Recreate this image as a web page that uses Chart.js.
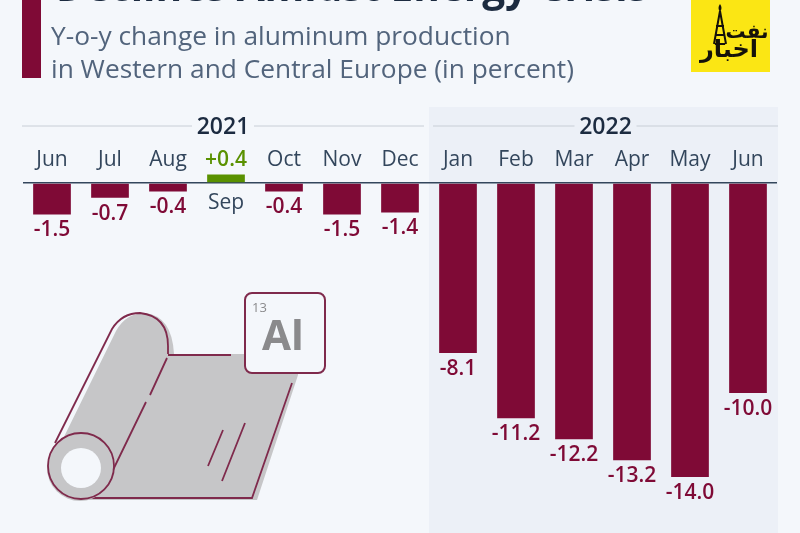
<!DOCTYPE html>
<html>
<head>
<meta charset="utf-8">
<style>
  html, body { margin: 0; padding: 0; }
  body { width: 800px; height: 533px; position: relative; overflow: hidden; background: #f4f7fb; font-family: "Open Sans", sans-serif; }
  #chart { position: absolute; left: 0; top: 0; }
  .accent { position: absolute; left: 22px; top: 0; width: 19px; height: 78px; background: #7f0a36; }
  .title { position: absolute; left: 56px; top: -36px; font-size: 40.5px; line-height: 44px; font-weight: 700; color: #1c2b40; white-space: nowrap; }
  .subtitle { position: absolute; left: 51px; top: 19px; font-size: 26.3px; line-height: 33px; color: #52647c; white-space: nowrap; }
  .logo { position: absolute; left: 691px; top: 0; width: 79px; height: 72px; background: #fbe614; }
  svg.art { position: absolute; left: 0; top: 0; }
</style>
</head>
<body>
<canvas id="chart" width="800" height="533"></canvas>
<div class="accent"></div>
<div class="title">Declines Amidst Energy Crisis</div>
<div class="subtitle">Y-o-y change in aluminum production<br>in Western and Central Europe (in percent)</div>
<div class="logo">
  <svg width="79" height="72" viewBox="0 0 79 72">
    <path d="M29 11 L23 44 M29 11 L35 44 M25 26 H33 M24 35 H34 M24 44 H34" stroke="#15120a" stroke-width="2" fill="none"/>
    <path d="M29 4 Q32 8 29 12 Q26 8 29 4 Z" fill="#15120a"/>
    <text x="56" y="38" text-anchor="middle" font-family="DejaVu Sans" font-weight="700" font-size="20" fill="#15120a" direction="rtl">نفت</text>
    <text x="38" y="57" text-anchor="middle" font-family="DejaVu Sans" font-weight="700" font-size="24" fill="#15120a" direction="rtl">اخبار</text>
  </svg>
</div>
<svg class="art" width="800" height="533" viewBox="0 0 800 533">
  <path d="M60 445 L116 331 Q126 313 145 313 Q172 316 174 354 L298 354 L298 375 L257 500 L85 500 Z" fill="#c6c6c8"/>
  <path d="M55 443 L112 329 Q122 313 140 313 Q168 316 168 346 L168 354" fill="none" stroke="#7f2a4c" stroke-width="1.8"/>
  <path d="M167 358 L150 395 M146 402 L113 470 M168 355 H231 M292 383 L252 498 H85 M223 430 L208 466 M245 423 L222 481" fill="none" stroke="#7f2a4c" stroke-width="1.8"/>
  <circle cx="80" cy="468" r="33" fill="#c6c6c8"/>
  <circle cx="81" cy="466" r="33" fill="none" stroke="#7f2a4c" stroke-width="1.8"/>
  <circle cx="81" cy="468" r="20" fill="#f4f7fb"/>
  <rect x="245" y="293" width="80" height="80" rx="7" fill="#f4f7fb" stroke="#7f2a4c" stroke-width="2"/>
  <text x="252" y="312" font-family="Open Sans" font-size="13" fill="#8a8a8c">13</text>
  <text x="283" y="350" text-anchor="middle" font-family="Open Sans" font-weight="700" font-size="42" fill="#8a8a8c">Al</text>
</svg>
<script src="https://cdn.jsdelivr.net/npm/chart.js@4"></script>
<script>
const months = ['Jun', 'Jul', 'Aug', 'Sep', 'Oct', 'Nov', 'Dec', 'Jan', 'Feb', 'Mar', 'Apr', 'May', 'Jun'];
const values = [-1.5, -0.7, -0.4, 0.4, -0.4, -1.5, -1.4, -8.1, -11.2, -12.2, -13.2, -14.0, -10.0];
const years = ['2021', '2022'];
// index of first and last month under each year header
const yearSpans = [[0, 6], [7, 12]];

const bandColor = '#ecf0f7';
const negColor = '#7f0a36';
const posColor = '#5a9100';

const formatValue = (v) => (v > 0 ? '+' : '') + v.toFixed(1);

// 2022 panel behind the bars
const bandPlugin = {
    id: 'band',
    beforeDraw(chart) {
        const x = chart.scales.x;
        const left = x.getPixelForValue(yearSpans[1][0]) - 29;
        const ctx = chart.ctx;
        ctx.save();
        ctx.fillStyle = bandColor;
        ctx.fillRect(left, 107, chart.chartArea.right + 1 - left, chart.height - 107);
        ctx.restore();
    }
};

// months, value labels and year headers
const labelPlugin = {
    id: 'labels',
    afterDraw(chart) {
        const { x, y } = chart.scales;
        const ctx = chart.ctx;
        const zero = y.getPixelForValue(0);
        ctx.save();
        ctx.textAlign = 'center';
        ctx.textBaseline = 'middle';

        values.forEach((v, i) => {
            const px = x.getPixelForValue(i);
            const tip = y.getPixelForValue(v);
            ctx.font = '600 21px "Open Sans"';
            ctx.fillStyle = v > 0 ? posColor : negColor;
            ctx.fillText(formatValue(v), px, v > 0 ? tip - 15 : tip + 16);
            ctx.font = '21px "Open Sans"';
            ctx.fillStyle = '#33465c';
            ctx.fillText(months[i], px, v > 0 ? zero + 20 : zero - 23);
        });

        years.forEach((year, k) => {
            const [from, to] = yearSpans[k];
            const left = x.getPixelForValue(from) - 29 + (k ? 4 : -1);
            const right = x.getPixelForValue(to) + 29 - (k ? -1 : 5);
            const mid = (left + right) / 2;
            ctx.strokeStyle = '#c8ced6';
            ctx.lineWidth = 1;
            ctx.beginPath();
            ctx.moveTo(left, 126);
            ctx.lineTo(mid - 31, 126);
            ctx.moveTo(mid + 31, 126);
            ctx.lineTo(right, 126);
            ctx.stroke();
            ctx.font = '600 23px "Open Sans"';
            ctx.fillStyle = '#1c2b40';
            ctx.fillText(year, mid, 127);
        });
        ctx.restore();
    }
};

new Chart(document.getElementById('chart').getContext('2d'), {
    type: 'bar',
    data: {
        labels: months,
        datasets: [{
            data: values,
            backgroundColor: values.map(v => (v > 0 ? posColor : negColor)),
            categoryPercentage: 1,
            barPercentage: 0.65
        }]
    },
    options: {
        responsive: false,
        animation: false,
        layout: { padding: { left: 23, right: 23, top: 141, bottom: 14 } },
        plugins: { legend: { display: false }, tooltip: { enabled: false } },
        scales: {
            x: { display: false },
            y: {
                min: -16,
                max: 2,
                ticks: { display: false, stepSize: 2 },
                border: { display: false },
                grid: {
                    drawTicks: false,
                    lineWidth: 1.5,
                    color: (c) => (c.tick.value === 0 ? '#33465c' : 'transparent')
                }
            }
        }
    },
    plugins: [bandPlugin, labelPlugin]
});
</script>
</body>
</html>
